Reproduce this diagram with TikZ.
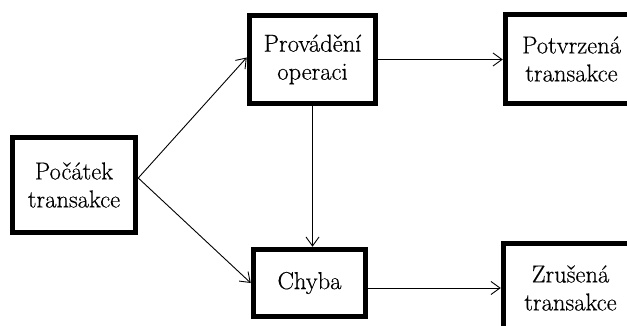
\documentclass[tikz,border=0pt]{standalone}
\usepackage{fontspec}
\newfontfamily\boxfont{Latin Modern Roman}[FakeBold=0.4]
\usetikzlibrary{arrows.meta}
\begin{document}
\begin{tikzpicture}[x=1pt,y=-1pt,
  state/.style={draw=black, line width=5.5pt, fill=white, inner sep=0pt,
    align=center, font=\boxfont\fontsize{24.5}{28}\selectfont},
  flow/.style={draw=black, line width=0.9pt,
    -{Straight Barb[length=9pt,width=13pt,line width=0.9pt]}}]
  \useasboundingbox (0,0) rectangle (627,326);
  \clip (0,0) rectangle (627,326);
  \fill[white] (0,0) rectangle (627,326);

  % states of a transaction
  \node[state, minimum width=123pt, minimum height=95pt] (start) at (74,185) {Počátek\\transakce};
  \node[state, minimum width=126pt, minimum height=88pt] (run) at (312.5,59.5) {Provádění\\operaci};
  \node[state, minimum width=132pt, minimum height=89pt] (commit) at (571.5,59) {Potvrzená\\transakce};
  \node[state, minimum width=112pt, minimum height=67pt] (err) at (309.5,283) {Chyba};
  \node[state, minimum width=134pt, minimum height=89pt] (abort) at (570.5,288) {Zrušená\\transakce};

  % transitions
  \coordinate (fork) at ([yshift=7pt]start.east);
  \draw[flow] (fork) -- ([yshift=2pt]run.west);
  \draw[flow] (fork) -- (err.west);
  \draw[flow] (run.south) -- (run.south |- err.north);
  \draw[flow] (run.east) -- (run.east -| commit.west);
  \draw[flow] (abort.west -| err.east) -- (abort.west);
\end{tikzpicture}
\end{document}
